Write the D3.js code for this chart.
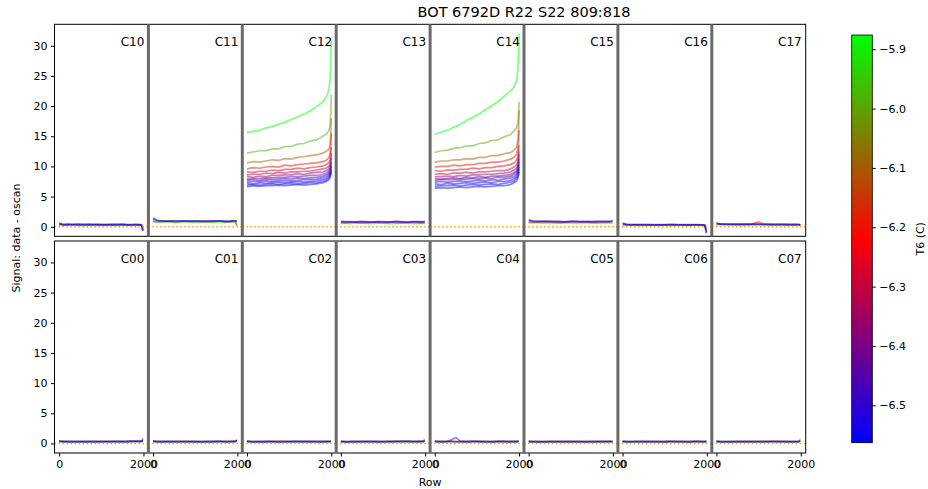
<!DOCTYPE html>
<html>
<head>
<meta charset="utf-8">
<script src="https://cdn.jsdelivr.net/npm/d3@7"></script>
<style>
body{margin:0;background:#fff}
text{font-family:"DejaVu Sans",sans-serif;fill:#000}
</style>
</head>
<body>
<svg id="chart" width="928" height="489"></svg>
<script>
// channels per row
var topNames = ["C10","C11","C12","C13","C14","C15","C16","C17"]
var bottomNames = ["C00","C01","C02","C03","C04","C05","C06","C07"]
var yTicks = [0,5,10,15,20,25,30]
var xTicks = [0,2000]
var cbTicks = [-5.9,-6.0,-6.1,-6.2,-6.3,-6.4,-6.5]

// exposures in the two hot segments, T6 per exposure
var temps = [-5.876,-5.99,-6.09,-6.19,-6.26,-6.31,-6.37,-6.42,-6.47,-6.50,-6.53,-6.55,-6.563]
var bigRows = [0,150,300,450,600,750,900,1050,1200,1350,1500,1650,1800,1880,1940,1970,1990,2000]

var c12 = [
  [15.6,15.8,16.0,16.4,16.6,17.0,17.3,17.8,18.2,18.7,19.2,19.9,20.7,21.5,22.6,24.2,28.0,31.3],
  [12.2,12.4,12.6,12.6,12.9,12.9,13.3,13.3,13.7,13.8,14.2,14.4,15.0,15.3,15.9,16.8,19.0,21.9],
  [10.6,10.8,10.7,10.9,11.1,11.0,11.3,11.2,11.5,11.6,11.8,11.9,12.2,12.5,12.8,13.6,15.5,18.0],
  [9.6,9.8,9.7,9.9,10.0,9.9,10.2,10.1,10.3,10.4,10.5,10.6,10.8,11.0,11.4,12.0,13.5,15.5],
  [9.1,9.0,9.2,9.2,9.4,9.3,9.5,9.5,9.7,9.6,9.8,9.9,10.1,10.3,10.6,11.0,12.0,13.2],
  [8.6,8.7,8.7,8.9,8.8,9.0,8.9,9.1,9.1,9.2,9.2,9.4,9.6,9.7,10.0,10.4,11.2,12.2],
  [8.3,8.2,8.4,8.3,8.5,8.5,8.6,8.6,8.8,8.7,8.9,9.0,9.1,9.3,9.6,10.0,10.6,11.4],
  [7.9,8.0,8.0,8.1,8.1,8.2,8.2,8.3,8.3,8.4,8.5,8.5,8.7,8.9,9.2,9.6,10.2,10.8],
  [7.7,7.8,7.7,7.9,7.8,7.9,8.0,7.9,8.1,8.0,8.1,8.2,8.4,8.6,8.9,9.3,9.8,10.3],
  [7.4,7.5,7.5,7.6,7.5,7.6,7.7,7.6,7.7,7.8,7.8,7.9,8.1,8.3,8.6,9.0,9.5,10.0],
  [7.2,7.1,7.3,7.2,7.3,7.4,7.3,7.4,7.5,7.4,7.5,7.6,7.8,8.0,8.3,8.7,9.2,9.6],
  [6.9,7.0,6.9,7.0,7.1,7.0,7.1,7.2,7.1,7.2,7.3,7.3,7.5,7.7,8.0,8.4,8.9,9.3],
  [6.6,6.8,6.7,6.8,6.8,6.9,6.8,6.9,7.0,6.9,7.0,7.1,7.3,7.5,7.8,8.1,8.6,9.0]
]
var c14 = [
  [15.3,15.7,16.0,16.5,16.9,17.6,18.1,18.7,19.4,20.1,20.7,21.7,22.5,23.2,24.2,25.8,29.0,32.0],
  [12.3,12.6,12.7,13.0,13.1,13.4,13.4,13.8,13.9,14.3,14.4,14.9,15.3,15.9,16.4,17.2,19.0,20.7],
  [10.7,10.9,10.9,11.1,11.1,11.3,11.2,11.5,11.5,11.8,11.8,12.1,12.3,12.7,13.2,14.2,16.5,19.3],
  [9.9,10.0,10.0,10.2,10.1,10.3,10.3,10.5,10.5,10.7,10.7,10.9,11.2,11.5,12.0,12.8,14.4,16.0],
  [9.3,9.2,9.4,9.4,9.5,9.5,9.7,9.6,9.8,9.8,10.0,10.1,10.3,10.6,11.0,11.6,12.6,13.5],
  [8.7,8.8,8.7,8.9,8.9,9.0,8.9,9.1,9.1,9.2,9.3,9.3,9.6,9.9,10.2,10.8,11.7,12.5],
  [8.3,8.3,8.4,8.3,8.5,8.4,8.6,8.6,8.7,8.7,8.8,8.9,9.1,9.4,9.7,10.2,11.1,12.0],
  [8.0,7.9,8.0,8.1,8.0,8.2,8.1,8.3,8.2,8.4,8.4,8.5,8.7,9.0,9.3,9.8,10.6,11.3],
  [7.7,7.8,7.8,7.8,7.9,7.9,8.0,7.9,8.1,8.0,8.2,8.2,8.4,8.7,9.0,9.5,10.2,10.8],
  [7.4,7.5,7.4,7.5,7.6,7.5,7.6,7.7,7.6,7.8,7.7,7.9,8.1,8.3,8.7,9.1,9.8,10.3],
  [7.1,7.0,7.2,7.1,7.2,7.3,7.2,7.3,7.4,7.3,7.5,7.5,7.7,8.0,8.3,8.8,9.4,9.9],
  [6.7,6.8,6.8,6.9,6.8,6.9,7.0,6.9,7.0,7.1,7.0,7.2,7.4,7.6,8.0,8.4,9.0,9.5],
  [6.4,6.5,6.4,6.5,6.6,6.5,6.6,6.7,6.6,6.7,6.8,6.8,7.0,7.3,7.6,8.0,8.6,9.1]
]

// quiet segments: a few exposures each, T6 per line
var flatTemps = [-5.876,-6.2,-6.5,-6.563]
var flatRows = [0,100,200,300,400,500,600,700,800,900,1000,1100,1200,1300,1400,1500,1600,1700,1800,1900,1950,1990]
var c10 = [
  [0.3,0.2,0.25,0.3,0.3,0.2,0.2,0.3,0.3,0.25,0.25,0.3,0.3,0.2,0.2,0.3,0.3,0.2,0.25,0.3,0.3,-0.1],
  [0.4,0.3,0.35,0.45,0.45,0.3,0.3,0.4,0.35,0.4,0.4,0.3,0.3,0.45,0.45,0.35,0.35,0.3,0.3,0.35,0.35,-0.4],
  [0.55,0.3,0.4,0.3,0.35,0.45,0.4,0.3,0.3,0.4,0.35,0.3,0.4,0.35,0.3,0.4,0.35,0.3,0.4,0.35,0.3,-0.6],
  [0.6,0.4,0.45,0.35,0.4,0.35,0.35,0.45,0.4,0.3,0.3,0.4,0.35,0.3,0.35,0.4,0.3,0.35,0.35,0.3,0.25,-0.7]
]
var c11 = [
  [0.8,0.7,0.75,0.8,0.8,0.7,0.7,0.8,0.8,0.75,0.75,0.7,0.8,0.75,0.7,0.8,0.75,0.7,0.8,0.75,0.7,0.1],
  [0.95,0.85,0.9,0.95,0.95,0.85,0.85,0.9,0.9,0.95,0.95,0.85,0.85,0.9,0.9,0.95,0.95,0.85,0.85,0.9,0.9,0.3],
  [1.3,1.0,0.95,0.9,0.9,1.0,1.0,0.95,0.95,0.9,0.9,1.0,1.0,0.9,0.9,0.95,0.95,0.9,0.9,1.0,0.95,0.9],
  [1.5,1.05,1.0,0.95,0.95,0.9,0.9,1.0,1.0,0.95,0.95,0.9,0.9,0.95,0.95,1.0,1.0,0.9,0.9,1.0,1.0,0.95]
]
var c13 = [
  [0.55,0.6,0.5,0.55,0.6,0.6,0.55,0.5,0.55,0.6,0.6,0.5,0.5,0.55,0.55,0.6,0.6,0.5,0.5,0.55,0.55,0.6],
  [0.7,0.65,0.7,0.75,0.7,0.65,0.65,0.7,0.75,0.7,0.7,0.65,0.75,0.7,0.65,0.7,0.7,0.75,0.7,0.65,0.65,0.7],
  [0.85,0.8,0.8,0.75,0.85,0.85,0.8,0.75,0.8,0.85,0.75,0.8,0.8,0.85,0.85,0.75,0.75,0.8,0.8,0.85,0.8,0.85],
  [0.9,0.85,0.85,0.8,0.8,0.85,0.85,0.8,0.8,0.85,0.85,0.8,0.8,0.9,0.85,0.8,0.8,0.85,0.85,0.8,0.85,0.9]
]
var c15 = [
  [0.6,0.65,0.65,0.6,0.6,0.55,0.55,0.65,0.65,0.6,0.6,0.55,0.55,0.6,0.6,0.65,0.65,0.55,0.55,0.6,0.6,0.65],
  [0.8,0.75,0.75,0.8,0.8,0.75,0.75,0.7,0.7,0.8,0.8,0.75,0.75,0.8,0.8,0.7,0.7,0.75,0.75,0.8,0.8,0.75],
  [1.0,0.9,0.85,0.85,0.9,0.9,0.85,0.85,0.8,0.8,0.9,0.9,0.85,0.85,0.8,0.8,0.9,0.9,0.85,0.85,0.9,0.95],
  [1.15,1.0,0.95,0.95,0.9,0.9,0.9,0.9,0.85,0.85,0.9,0.9,0.85,0.85,0.9,0.9,0.85,0.85,0.9,0.9,0.95,1.0]
]
var c16 = [
  [0.2,0.25,0.25,0.3,0.3,0.2,0.2,0.25,0.25,0.3,0.3,0.2,0.2,0.25,0.25,0.2,0.2,0.3,0.3,0.25,0.2,-0.3],
  [0.35,0.3,0.3,0.4,0.4,0.35,0.35,0.3,0.3,0.35,0.35,0.4,0.4,0.3,0.3,0.35,0.35,0.3,0.3,0.3,0.25,-0.6],
  [0.5,0.35,0.35,0.3,0.3,0.3,0.3,0.35,0.35,0.3,0.3,0.35,0.35,0.3,0.3,0.3,0.3,0.35,0.35,0.3,0.3,-0.9],
  [0.6,0.4,0.35,0.3,0.3,0.35,0.35,0.3,0.3,0.3,0.3,0.3,0.3,0.35,0.35,0.3,0.3,0.3,0.3,0.3,0.25,-1.1]
]
var c17 = [
  [0.3,0.35,0.35,0.3,0.3,0.25,0.25,0.3,0.3,0.35,0.35,0.3,0.3,0.3,0.3,0.35,0.35,0.25,0.25,0.3,0.3,0.2],
  [0.45,0.4,0.4,0.4,0.4,0.45,0.45,0.4,0.4,0.6,0.8,0.5,0.45,0.4,0.4,0.4,0.4,0.35,0.35,0.4,0.4,0.3],
  [0.55,0.45,0.45,0.4,0.4,0.4,0.4,0.45,0.45,0.4,0.4,0.4,0.4,0.35,0.35,0.4,0.4,0.35,0.35,0.35,0.35,0.3],
  [0.6,0.45,0.45,0.45,0.45,0.4,0.4,0.4,0.4,0.45,0.45,0.4,0.4,0.4,0.4,0.35,0.35,0.4,0.4,0.35,0.35,0.3]
]
var c00 = [
  [0.2,0.25,0.25,0.2,0.2,0.3,0.3,0.2,0.2,0.25,0.25,0.3,0.3,0.2,0.2,0.25,0.25,0.3,0.3,0.3,0.35,0.6],
  [0.3,0.3,0.3,0.35,0.35,0.25,0.25,0.3,0.3,0.35,0.35,0.3,0.3,0.35,0.35,0.3,0.3,0.35,0.35,0.3,0.3,0.9],
  [0.4,0.35,0.35,0.3,0.3,0.35,0.35,0.3,0.3,0.3,0.3,0.35,0.35,0.3,0.3,0.35,0.35,0.4,0.4,0.35,0.35,0.4],
  [0.45,0.3,0.3,0.3,0.3,0.3,0.3,0.35,0.35,0.3,0.3,0.3,0.3,0.35,0.35,0.3,0.3,0.35,0.35,0.4,0.4,0.5]
]
var c01 = [
  [0.25,0.2,0.2,0.25,0.25,0.2,0.2,0.3,0.3,0.2,0.2,0.25,0.25,0.2,0.2,0.3,0.3,0.25,0.25,0.3,0.3,0.4],
  [0.3,0.35,0.35,0.3,0.3,0.3,0.3,0.35,0.35,0.3,0.3,0.3,0.3,0.35,0.35,0.3,0.3,0.35,0.35,0.3,0.3,0.5],
  [0.4,0.3,0.3,0.35,0.35,0.3,0.3,0.3,0.3,0.35,0.35,0.3,0.3,0.3,0.3,0.35,0.35,0.3,0.3,0.35,0.35,0.6],
  [0.45,0.3,0.3,0.3,0.3,0.35,0.35,0.3,0.3,0.3,0.3,0.3,0.3,0.3,0.3,0.35,0.35,0.3,0.3,0.35,0.35,0.5]
]
var c02 = [
  [0.3,0.2,0.2,0.25,0.25,0.3,0.3,0.2,0.2,0.25,0.25,0.2,0.2,0.3,0.3,0.25,0.25,0.2,0.2,0.3,0.3,0.3],
  [0.35,0.3,0.3,0.25,0.25,0.3,0.3,0.35,0.35,0.3,0.3,0.35,0.35,0.3,0.3,0.3,0.3,0.35,0.35,0.3,0.3,0.35],
  [0.35,0.3,0.3,0.35,0.35,0.3,0.3,0.3,0.3,0.35,0.35,0.3,0.3,0.35,0.35,0.3,0.3,0.3,0.3,0.35,0.35,0.4],
  [0.4,0.3,0.3,0.3,0.3,0.35,0.35,0.3,0.3,0.3,0.3,0.35,0.35,0.3,0.3,0.35,0.35,0.3,0.3,0.3,0.3,0.35]
]
var c03 = [
  [0.2,0.25,0.25,0.2,0.2,0.3,0.3,0.25,0.25,0.2,0.2,0.3,0.3,0.25,0.25,0.2,0.2,0.3,0.3,0.25,0.25,0.8],
  [0.3,0.25,0.25,0.3,0.3,0.35,0.35,0.3,0.3,0.25,0.25,0.35,0.35,0.4,0.4,0.3,0.3,0.35,0.35,0.3,0.3,0.4],
  [0.35,0.3,0.3,0.35,0.35,0.3,0.3,0.3,0.3,0.35,0.35,0.3,0.3,0.35,0.35,0.4,0.4,0.3,0.3,0.35,0.35,0.4],
  [0.35,0.3,0.3,0.3,0.3,0.3,0.3,0.35,0.35,0.3,0.3,0.3,0.3,0.3,0.3,0.35,0.35,0.3,0.3,0.35,0.35,0.45]
]
var c04 = [
  [0.25,0.2,0.2,0.3,0.3,0.25,0.25,0.2,0.2,0.3,0.3,0.25,0.25,0.2,0.2,0.3,0.3,0.25,0.25,0.3,0.3,0.3],
  [0.3,0.35,0.35,0.3,0.3,0.3,0.3,0.35,0.35,0.3,0.3,0.35,0.35,0.3,0.3,0.3,0.3,0.35,0.35,0.3,0.3,0.35],
  [0.35,0.3,0.3,0.35,0.6,1.0,0.4,0.3,0.3,0.35,0.35,0.3,0.3,0.3,0.3,0.35,0.35,0.3,0.3,0.35,0.35,0.35],
  [0.4,0.3,0.3,0.35,0.35,0.3,0.3,0.3,0.3,0.35,0.35,0.3,0.3,0.3,0.3,0.35,0.35,0.3,0.3,0.3,0.3,0.4]
]
var c05 = [
  [0.2,0.25,0.25,0.3,0.3,0.2,0.2,0.25,0.25,0.2,0.2,0.3,0.3,0.25,0.25,0.2,0.2,0.25,0.25,0.3,0.3,0.25],
  [0.3,0.3,0.3,0.25,0.25,0.3,0.3,0.35,0.35,0.3,0.3,0.25,0.25,0.3,0.3,0.35,0.35,0.3,0.3,0.3,0.3,0.3],
  [0.35,0.3,0.3,0.3,0.3,0.35,0.35,0.3,0.3,0.3,0.3,0.35,0.35,0.3,0.3,0.3,0.3,0.35,0.35,0.3,0.3,0.35],
  [0.35,0.3,0.3,0.3,0.3,0.3,0.3,0.3,0.3,0.35,0.35,0.3,0.3,0.3,0.3,0.3,0.3,0.3,0.3,0.35,0.35,0.35]
]
var c06 = [
  [0.25,0.3,0.3,0.2,0.2,0.25,0.25,0.3,0.3,0.2,0.2,0.25,0.25,0.3,0.3,0.2,0.2,0.25,0.25,0.3,0.3,0.3],
  [0.3,0.25,0.25,0.3,0.3,0.35,0.35,0.25,0.25,0.3,0.3,0.35,0.35,0.25,0.25,0.3,0.3,0.35,0.35,0.3,0.3,0.3],
  [0.35,0.3,0.3,0.3,0.3,0.3,0.3,0.35,0.35,0.3,0.3,0.3,0.3,0.35,0.35,0.3,0.3,0.3,0.3,0.3,0.3,0.35],
  [0.4,0.3,0.3,0.35,0.35,0.3,0.3,0.3,0.3,0.3,0.3,0.35,0.35,0.3,0.3,0.3,0.3,0.35,0.35,0.3,0.3,0.35]
]
var c07 = [
  [0.2,0.3,0.3,0.25,0.25,0.2,0.2,0.3,0.3,0.25,0.25,0.2,0.2,0.3,0.3,0.25,0.25,0.2,0.2,0.3,0.3,0.8],
  [0.3,0.25,0.25,0.3,0.3,0.3,0.3,0.25,0.25,0.35,0.35,0.3,0.3,0.4,0.4,0.3,0.3,0.25,0.25,0.3,0.3,0.5],
  [0.35,0.3,0.3,0.3,0.3,0.35,0.35,0.3,0.3,0.3,0.3,0.35,0.35,0.3,0.3,0.3,0.3,0.35,0.35,0.3,0.3,0.4],
  [0.4,0.3,0.3,0.3,0.3,0.3,0.3,0.35,0.35,0.3,0.3,0.3,0.3,0.3,0.3,0.35,0.35,0.3,0.3,0.3,0.3,0.4]
]

var segData = {C10:c10,C11:c11,C12:c12,C13:c13,C14:c14,C15:c15,C16:c16,C17:c17,
               C00:c00,C01:c01,C02:c02,C03:c03,C04:c04,C05:c05,C06:c06,C07:c07}

var svg = d3.select("#chart")
var left = 54.5, panelW = 93.9, rowH = 212
var rowTops = [24.3, 241]
var tMin = -6.563, tMax = -5.876

var x = d3.scaleLinear().domain([-111,2117]).range([0,panelW])
var y = d3.scaleLinear().domain([-1.58,33.55]).range([rowH,0])
var brg = d3.piecewise(d3.interpolateRgb, ["#0000ff","#ff0000","#00ff00"])
var color = d3.scaleSequential(brg).domain([tMin,tMax])
var line = d3.line().x(d=>x(d[0])).y(d=>y(d[1]))

function drawRow(names, top, isBottom){
  var row = svg.append("g").attr("transform",`translate(${left},${top})`)
  names.forEach(function(name,i){
    var g = row.append("g").attr("transform",`translate(${i*panelW},0)`)
    var lines = segData[name]
    var big = lines.length > 4
    var rows = big ? bigRows : flatRows
    var tt = big ? temps : flatTemps
    lines.forEach(function(vals,k){
      g.append("path")
       .datum(rows.map((r,j)=>[r,vals[j]]))
       .attr("d",line)
       .attr("fill","none")
       .attr("stroke",color(tt[k]))
       .attr("stroke-opacity",0.5)
       .attr("stroke-width",1.7)
    })
    g.append("line")
     .attr("x1",0).attr("x2",panelW)
     .attr("y1",y(0)).attr("y2",y(0))
     .attr("stroke","#ffa500")
     .attr("stroke-width",1.5)
     .attr("stroke-dasharray","1.5,2.5")
    g.append("text")
     .attr("x",panelW-4).attr("y",21.5)
     .attr("text-anchor","end")
     .attr("font-size","12px")
     .text(name)
    if(isBottom){
      var ax = g.append("g").attr("transform",`translate(0,${rowH})`)
        .call(d3.axisBottom(x).tickValues(xTicks).tickSize(3.5).tickPadding(3.5).tickFormat(d3.format("d")))
      ax.select(".domain").remove()
      ax.selectAll("text").attr("font-size","11px").attr("font-family","DejaVu Sans")
    }
  })
  var ay = row.append("g").call(d3.axisLeft(y).tickValues(yTicks).tickSize(3.5).tickPadding(3.5))
  ay.select(".domain").remove()
  ay.selectAll("text").attr("font-size","11px").attr("font-family","DejaVu Sans")
  row.append("rect")
     .attr("width",panelW*names.length).attr("height",rowH)
     .attr("fill","none").attr("stroke","#000").attr("stroke-width",1)
  for(let i=1;i<names.length;i++){
    row.append("line")
       .attr("x1",i*panelW).attr("x2",i*panelW)
       .attr("y1",0).attr("y2",rowH)
       .attr("stroke","#6a6a6a").attr("stroke-width",3)
  }
}

drawRow(topNames, rowTops[0], false)
drawRow(bottomNames, rowTops[1], true)

// titles
svg.append("text")
   .attr("x",524).attr("y",17)
   .attr("text-anchor","middle")
   .attr("font-size","14.5px")
   .text("BOT 6792D R22 S22 809:818")
svg.append("text")
   .attr("x",left+panelW*4).attr("y",486)
   .attr("text-anchor","middle")
   .attr("font-size","11px")
   .text("Row")
svg.append("text")
   .attr("transform","translate(20,238) rotate(-90)")
   .attr("text-anchor","middle")
   .attr("font-size","11px")
   .text("Signal: data - oscan")

// colorbar
var cbX = 851.7, cbY = 35, cbW = 20.6, cbH = 407.7
var grad = svg.append("defs").append("linearGradient")
   .attr("id","cbgrad").attr("x1",0).attr("x2",0).attr("y1",1).attr("y2",0)
d3.range(0,1.0001,0.05).forEach(function(t){
  grad.append("stop").attr("offset",t).attr("stop-color",brg(t))
})
svg.append("rect")
   .attr("x",cbX).attr("y",cbY).attr("width",cbW).attr("height",cbH)
   .attr("fill","url(#cbgrad)").attr("stroke","#000").attr("stroke-width",0.8)
var cy = d3.scaleLinear().domain([tMin,tMax]).range([cbY+cbH,cbY])
var cax = svg.append("g").attr("transform",`translate(${cbX+cbW},0)`)
   .call(d3.axisRight(cy).tickValues(cbTicks).tickSize(3.5).tickPadding(3.5).tickFormat(d3.format(".1f")))
cax.select(".domain").remove()
cax.selectAll("text").attr("font-size","11px").attr("font-family","DejaVu Sans")
svg.append("text")
   .attr("transform",`translate(924,${cbY+cbH/2}) rotate(-90)`)
   .attr("text-anchor","middle")
   .attr("font-size","11px")
   .text("T6 (C)")
</script>
</body>
</html>
